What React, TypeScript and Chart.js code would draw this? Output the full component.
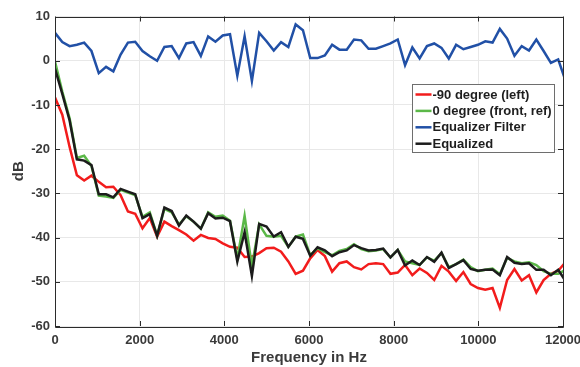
import React, { useEffect, useRef } from "react";
import { Chart, registerables } from "chart.js";

Chart.register(...registerables);

const freqHz = [
  0, 172, 345, 517, 689, 861, 1034, 1206, 1378, 1550,
  1723, 1895, 2067, 2239, 2412, 2584, 2756, 2928, 3101, 3273,
  3445, 3618, 3790, 3962, 4134, 4307, 4479, 4651, 4823, 4996,
  5168, 5340, 5512, 5685, 5857, 6029, 6202, 6374, 6546, 6718,
  6891, 7063, 7235, 7407, 7580, 7752, 7924, 8096, 8269, 8441,
  8613, 8786, 8958, 9130, 9302, 9475, 9647, 9819, 9991, 10164,
  10336, 10508, 10680, 10853, 11025, 11197, 11370, 11542, 11714, 11886, 12059,
];

const minus90Left = [
  -8.3, -12.2, -19.5, -25.9, -27.1, -26.0, -27.4, -28.6, -28.5, -30.4,
  -34.1, -34.6, -37.9, -35.6, -39.8, -36.4, -37.4, -38.3, -39.3, -40.7,
  -39.4, -40.1, -40.3, -41.3, -42.1, -42.3, -44.4, -44.3, -43.5, -42.4,
  -42.3, -43.2, -45.4, -48.2, -47.5, -44.7, -42.8, -44.2, -47.7, -45.8,
  -45.4, -46.7, -47.2, -46.0, -45.8, -46.0, -48.2, -47.9, -46.2, -48.5,
  -47.0, -48.0, -49.6, -46.4, -47.7, -49.8, -47.8, -50.5, -51.4, -51.8,
  -51.4, -55.9, -49.6, -47.1, -49.7, -48.5, -52.4, -49.6, -48.2, -47.5, -45.6,
];

const zeroFrontRef = [
  -0.2, -7.0, -13.0, -22.0, -21.5, -23.8, -30.5, -30.7, -31.0, -29.2,
  -29.8, -30.4, -35.3, -34.3, -39.5, -33.5, -34.3, -37.0, -35.2, -36.4,
  -38.0, -34.3, -35.3, -35.0, -36.2, -44.8, -35.1, -46.5, -37.0, -39.6,
  -39.8, -39.6, -42.1, -39.8, -39.3, -44.0, -42.4, -43.3, -44.0, -43.0,
  -42.6, -41.5, -42.6, -43.1, -42.9, -42.6, -44.5, -42.8, -45.4, -45.8,
  -46.2, -44.5, -45.2, -43.5, -46.7, -46.0, -45.0, -46.7, -47.6, -47.3,
  -47.0, -48.3, -44.6, -45.4, -45.8, -45.6, -46.2, -47.6, -48.2, -48.2, -47.3,
];

const equalizerFilter = [
  6.3, 4.2, 3.3, 3.6, 4.1, 2.2, -2.8, -1.4, -2.4, 1.4,
  4.1, 4.3, 2.2, 1.0, 0.0, 3.1, 3.3, 0.6, 3.9, 4.2,
  1.1, 5.5, 4.3, 5.7, 6.0, -3.4, 5.5, -4.6, 6.3, 4.4,
  2.3, 4.2, 3.1, 8.2, 6.9, 0.6, 0.6, 1.2, 3.6, 2.5,
  2.5, 4.8, 4.6, 2.7, 2.7, 3.3, 3.9, 4.8, -1.0, 3.0,
  0.5, 3.3, 3.9, 2.9, 0.5, 3.6, 2.6, 3.1, 3.6, 4.4,
  4.1, 7.2, 5.0, 1.1, 3.3, 2.3, 4.8, 2.2, -0.5, 0.3, -4.5,
];

const equalized = [
  -1.8, -7.5, -13.5, -22.3, -22.6, -23.6, -30.2, -30.2, -30.9, -29.0,
  -29.6, -30.2, -35.6, -34.7, -39.6, -33.2, -34.0, -37.3, -35.0, -36.4,
  -38.0, -34.5, -35.7, -35.5, -36.3, -45.4, -38.8, -48.7, -36.9, -37.5,
  -39.8, -38.8, -42.1, -39.8, -40.3, -44.1, -42.2, -42.9, -44.2, -43.3,
  -42.9, -41.7, -42.4, -42.9, -42.8, -42.5, -44.5, -42.8, -46.3, -45.2,
  -46.2, -44.4, -45.5, -43.4, -46.9, -46.0, -45.1, -47.1, -47.5, -47.3,
  -47.2, -48.5, -44.4, -45.7, -46.0, -45.8, -47.3, -47.3, -48.5, -47.3, -49.8,
];

const xTickValues = [0, 2000, 4000, 6000, 8000, 10000, 12000];
const yTickValues = [-60, -50, -40, -30, -20, -10, 0, 10];

const seriesLabels = ["-90 degree (left)", "0 degree (front, ref)", "Equalizer Filter", "Equalized"];
const seriesColors = ["#f21c1c", "#5bb848", "#2150a6", "#1c1c1c"];

const FONT = "'Liberation Sans', Arial, Helvetica, sans-serif";
const AXIS_COLOR = "#2b2b2b";
const TEXT_COLOR = "#3a3a3a";

const toPoints = (ys: number[]) => ys.map((y, i) => ({ x: freqHz[i], y }));

const framePlugin = {
  id: "matlabFrame",
  afterDatasetsDraw(chart: any) {
    const { ctx, chartArea, scales } = chart;
    const { left, right, top, bottom } = chartArea;
    ctx.save();
    ctx.strokeStyle = AXIS_COLOR;
    ctx.lineWidth = 1;
    ctx.beginPath();
    ctx.rect(Math.round(left) + 0.5, Math.round(top) + 0.5, Math.round(right - left), Math.round(bottom - top));
    ctx.stroke();
    const tl = 5;
    ctx.beginPath();
    xTickValues.forEach((v) => {
      const px = Math.round(scales.x.getPixelForValue(v)) + 0.5;
      ctx.moveTo(px, bottom);
      ctx.lineTo(px, bottom - tl);
      ctx.moveTo(px, top);
      ctx.lineTo(px, top + tl);
    });
    yTickValues.forEach((v) => {
      const py = Math.round(scales.y.getPixelForValue(v)) + 0.5;
      ctx.moveTo(left, py);
      ctx.lineTo(left + tl, py);
      ctx.moveTo(right, py);
      ctx.lineTo(right - tl, py);
    });
    ctx.stroke();
    ctx.restore();
  },
};

const legendPlugin = {
  id: "insideLegend",
  afterDraw(chart: any) {
    const { ctx } = chart;
    const bx = 412.5;
    const by = 84.5;
    const bw = 142;
    const bh = 68;
    ctx.save();
    ctx.fillStyle = "#ffffff";
    ctx.fillRect(bx, by, bw, bh);
    ctx.strokeStyle = "#6e6e6e";
    ctx.lineWidth = 1;
    ctx.strokeRect(bx, by, bw, bh);
    ctx.font = `bold 13px ${FONT}`;
    ctx.textBaseline = "middle";
    ctx.textAlign = "left";
    chart.data.datasets.forEach((ds: any, i: number) => {
      const cy = by + 10 + i * 16.4;
      ctx.strokeStyle = ds.borderColor;
      ctx.lineWidth = 2.5;
      ctx.beginPath();
      ctx.moveTo(bx + 3, cy);
      ctx.lineTo(bx + 19, cy);
      ctx.stroke();
      ctx.fillStyle = "#1e1e1e";
      ctx.fillText(ds.label, bx + 20, cy + 0.5);
    });
    ctx.restore();
  },
};

export default function App() {
  const canvasRef = useRef<HTMLCanvasElement | null>(null);

  useEffect(() => {
    const canvas = canvasRef.current;
    if (!canvas) return;
    const seriesValues = [minus90Left, zeroFrontRef, equalizerFilter, equalized];
    const orders = [4, 3, 2, 1];
    const chart = new Chart(canvas, {
      type: "line",
      data: {
        datasets: seriesValues.map((vals, i) => ({
          label: seriesLabels[i],
          data: toPoints(vals),
          borderColor: seriesColors[i],
          backgroundColor: seriesColors[i],
          borderWidth: 2.5,
          pointRadius: 0,
          tension: 0,
          fill: false,
          order: orders[i],
        })),
      },
      options: {
        responsive: false,
        animation: false,
        events: [],
        layout: { padding: { top: 16.5, right: 17, left: 0, bottom: 0 } },
        plugins: {
          legend: { display: false },
          tooltip: { enabled: false },
        },
        scales: {
          x: {
            type: "linear",
            min: 0,
            max: 12000,
            afterBuildTicks: (s: any) => {
              s.ticks = xTickValues.map((v) => ({ value: v }));
            },
            afterFit: (s: any) => {
              s.height = 41;
              s.paddingLeft = 0;
              s.paddingRight = 0;
            },
            ticks: {
              autoSkip: false,
              maxRotation: 0,
              padding: 7,
              color: TEXT_COLOR,
              font: { family: FONT, size: 13, weight: "bold" },
              callback: (v: any) => String(v),
            },
            grid: { color: "#e8e8e8", drawTicks: false, lineWidth: 1 },
            border: { display: false },
            title: {
              display: true,
              text: "Frequency in Hz",
              color: TEXT_COLOR,
              font: { family: FONT, size: 15, weight: "bold" },
              padding: { top: 0, bottom: 0 },
            },
          },
          y: {
            type: "linear",
            min: -60,
            max: 10,
            afterBuildTicks: (s: any) => {
              s.ticks = yTickValues.map((v) => ({ value: v }));
            },
            afterFit: (s: any) => {
              s.width = 55;
              s.paddingTop = 0;
              s.paddingBottom = 0;
            },
            ticks: {
              autoSkip: false,
              padding: 5,
              color: TEXT_COLOR,
              font: { family: FONT, size: 13, weight: "bold" },
              callback: (v: any) => String(v),
            },
            grid: { color: "#e8e8e8", drawTicks: false, lineWidth: 1 },
            border: { display: false },
            title: {
              display: true,
              text: "dB",
              color: TEXT_COLOR,
              font: { family: FONT, size: 15, weight: "bold" },
              padding: { top: 10, bottom: 0 },
            },
          },
        },
      },
      plugins: [framePlugin, legendPlugin],
    } as any);
    return () => chart.destroy();
  }, []);

  return (
    <div style={{ position: "absolute", left: 0, top: 0, width: 580, height: 367, background: "#ffffff" }}>
      <canvas ref={canvasRef} width={580} height={367} style={{ display: "block" }} />
    </div>
  );
}
